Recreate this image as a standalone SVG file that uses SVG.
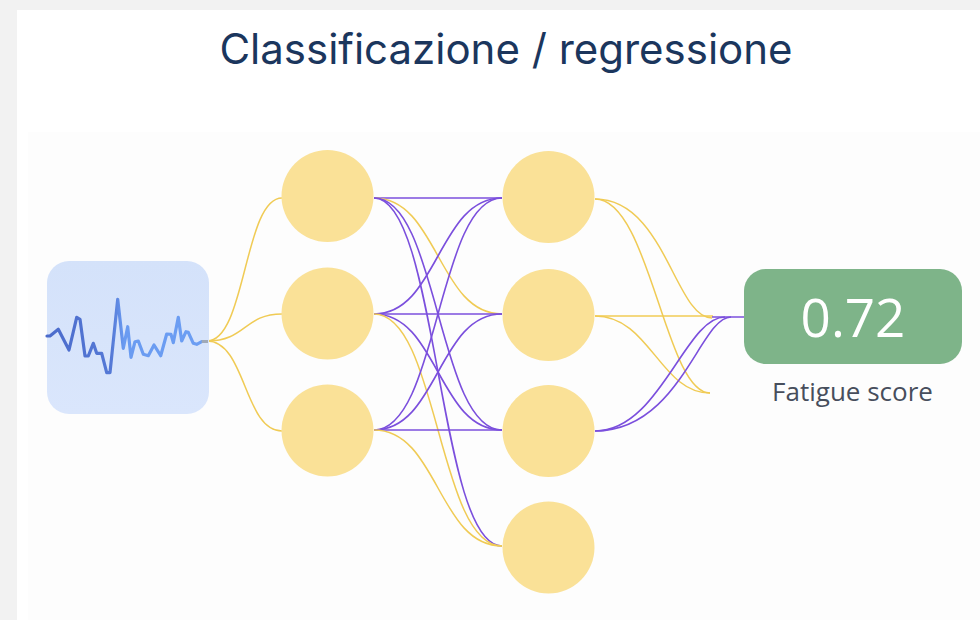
<svg xmlns="http://www.w3.org/2000/svg" width="980" height="620" viewBox="0 0 980 620">
  <defs>
    <linearGradient id="sig" gradientUnits="userSpaceOnUse" x1="47" y1="0" x2="208" y2="0">
      <stop offset="0" stop-color="#4b6bcb"/>
      <stop offset="0.4" stop-color="#5579d6"/>
      <stop offset="0.48" stop-color="#6a9bf1"/>
      <stop offset="1" stop-color="#6c9ef3"/>
    </linearGradient>
    <linearGradient id="boxfill" x1="0" y1="0" x2="0" y2="1">
      <stop offset="0" stop-color="#d4e2fa"/>
      <stop offset="1" stop-color="#dae6fc"/>
    </linearGradient>
  </defs>
  <style>
    .neuron { fill: #fae197; }
    .ey { fill: none; stroke: #f0cb55; stroke-width: 1.5; }
    .ep { fill: none; stroke: #7b4fdd; stroke-width: 1.6; }
    .title { font-family: Inter, "Liberation Sans", sans-serif; font-size: 42px; fill: #1b365d; }
    .val { font-family: "Open Sans", "Liberation Sans", sans-serif; font-size: 53px; fill: #ffffff; }
    .lbl { font-family: "Open Sans", "Liberation Sans", sans-serif; font-size: 26px; fill: #474e5c; }
  </style>

  <rect x="0" y="0" width="980" height="620" fill="#f2f2f2"/>
  <rect x="17" y="10" width="963" height="610" fill="#ffffff"/>
  <rect x="28" y="132" width="952" height="488" fill="#fdfdfd"/>

  <g id="title">
    <text class="title" x="506" y="64" text-anchor="middle">Classificazione / regressione</text>
  </g>

  <g id="connectors">
    <!-- input to hidden layer 1 -->
    <path class="ey" d="M207,341 C246,341 244,198 282,198"/>
    <path class="ey" d="M207,341 C246,341 244,314 282,314"/>
    <path class="ey" d="M207,341 C246,341 244,431 282,431"/>
    <!-- hidden 1 to hidden 2 -->
    <path class="ep" d="M374,198 L502,198"/>
    <path class="ey" d="M374,198 C438,198 438,314 502,314"/>
    <path class="ep" d="M374,198 C438,198 438,430 502,430"/>
    <path class="ep" d="M374,198 C438,198 438,546 502,546"/>
    <path class="ep" d="M374,314 C438,314 438,198 502,198"/>
    <path class="ep" d="M374,314 L502,314"/>
    <path class="ep" d="M374,314 C438,314 438,430 502,430"/>
    <path class="ey" d="M374,314 C438,314 438,546 502,546"/>
    <path class="ep" d="M374,430 C438,430 438,198 502,198"/>
    <path class="ep" d="M374,430 C438,430 438,314 502,314"/>
    <path class="ep" d="M374,430 L502,430"/>
    <path class="ey" d="M374,430 C438,430 438,546 502,546"/>
    <!-- hidden 2 to output -->
    <path class="ey" d="M595,199 C665,199 675,318 712,318"/>
    <path class="ey" d="M595,199 C650,199 665,393 710,393"/>
    <path class="ey" d="M595,316 L713,316"/>
    <path class="ey" d="M595,316 C650,316 660,393 710,393"/>
    <path class="ep" d="M595,431 C660,431 685,317 725,317"/>
    <path class="ep" d="M595,431 C680,431 700,317 731,317"/>
    <path class="ep" d="M712,317 L745,317"/>
  </g>

  <g id="input">
    <rect x="47" y="261" width="162" height="153" rx="22" fill="url(#boxfill)"/>
    <polyline fill="none" stroke="url(#sig)" stroke-width="3.2" stroke-linejoin="round" stroke-linecap="round"
      points="47,336 50,336 58.3,329.3 69,350 76.7,317.3 80,319.3 85,356 88.3,356 93.3,343.3 96.7,353.3 101.7,353.3 106.7,372.7 110,372.7 117.7,299.3 123.3,348.3 127.7,326.7 131,357.3 135,341.7 138.3,341 143.3,354.3 148.3,355.7 154,345 160.7,355.7 166.7,334 171,334.3 173.3,342.7 178.3,317.3 181.7,341 186,331.7 188.3,332.3 193.3,343.3 196.7,344.3 201.7,341.7"/>
    <line x1="201.7" y1="341.5" x2="208" y2="341.5" stroke="#9fa9b8" stroke-width="3"/>
  </g>

  <g id="h1-1"><circle class="neuron" cx="327.5" cy="196" r="46"/></g>
  <g id="h1-2"><circle class="neuron" cx="327.5" cy="313.5" r="46"/></g>
  <g id="h1-3"><circle class="neuron" cx="327.5" cy="430.5" r="46"/></g>

  <g id="h2-1"><circle class="neuron" cx="548.5" cy="197" r="46"/></g>
  <g id="h2-2"><circle class="neuron" cx="548.5" cy="315" r="46"/></g>
  <g id="h2-3"><circle class="neuron" cx="548.5" cy="431" r="46"/></g>
  <g id="h2-4"><circle class="neuron" cx="548.5" cy="547.5" r="46"/></g>

  <g id="output">
    <rect x="744" y="269" width="218" height="95" rx="22" fill="#7eb489"/>
    <text class="val" x="853" y="337" text-anchor="middle">0.72</text>
  </g>

  <g id="output-label">
    <text class="lbl" x="852.5" y="401" text-anchor="middle">Fatigue score</text>
  </g>
</svg>
